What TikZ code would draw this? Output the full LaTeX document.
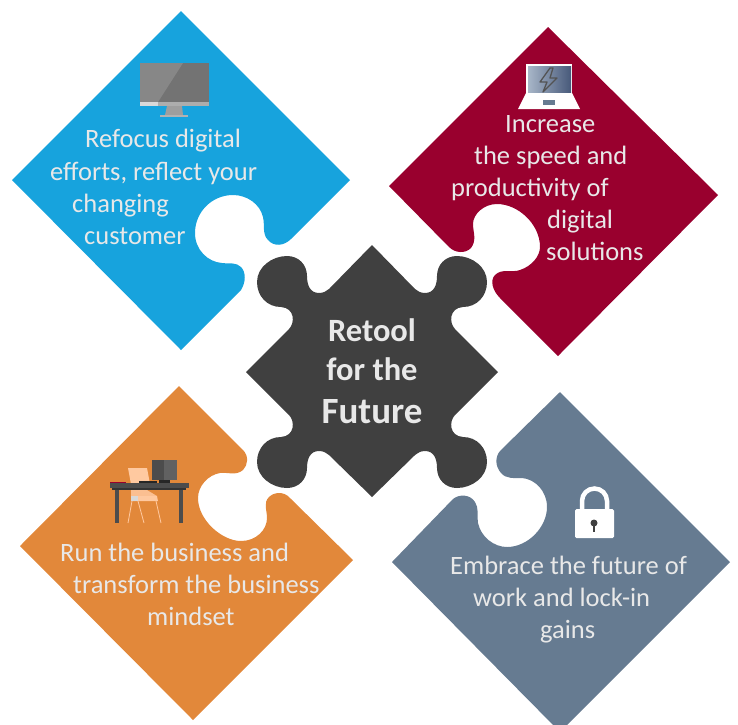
\documentclass[tikz,border=0pt]{standalone}
\usepackage{fontspec}
\usepackage{xcolor}
\setmainfont{Carlito}
\definecolor{skyblue}{HTML}{17A3DD}
\definecolor{wine}{HTML}{99002E}
\definecolor{amber}{HTML}{E2883A}
\definecolor{slate}{HTML}{667B91}
\definecolor{coal}{HTML}{404040}
\definecolor{paper}{HTML}{E8E8E8}
\definecolor{peach}{HTML}{FFC9A0}
\definecolor{screenleft}{HTML}{A8B6C8}
\definecolor{screenright}{HTML}{47597A}
\tikzset{
    bodytext/.style={anchor=base west,inner sep=0pt,yshift=-0.7pt,text=paper,font=\fontsize{26.5}{26.5}\selectfont},
    hubtext/.style={anchor=base,inner sep=0pt,yshift=-0.7pt,text=paper,font=\fontsize{32.5}{32.5}\selectfont\bfseries}
}

\begin{document}
\begin{tikzpicture}[x=1pt,y=-1pt]
                \useasboundingbox (0,0) rectangle (738,724);
                \clip (0,0) rectangle (738,724);

                % Puzzle pieces
                % top left
                \fill[skyblue] (181,11) -- (350,180) -- (291,239) .. controls (284,246) and (274,247) .. (268,240) .. controls (262,234) and (265,226) .. (263,217) .. controls (260,204) and (247,195) .. (233,195) .. controls (212,195) and (195,212) .. (195,233) .. controls (195,250) and (208,262) .. (222,263) .. controls (230,264) and (236,262) .. (241,267) .. controls (246,272) and (246,282) .. (241,290) -- (181,350) -- (12,180) -- cycle;
                % top right
                \fill[wine] (548,27) -- (718,195) -- (558,356) -- (500,298) .. controls (492,290) and (490,280) .. (495,275) .. controls (502,268) and (512,273) .. (520,270) .. controls (532,266) and (540,256) .. (540,247) .. controls (540,224) and (518,204) .. (497,204) .. controls (484,204) and (473,214) .. (473,224) .. controls (473,232) and (477,240) .. (471,248) .. controls (465,254) and (455,253) .. (449,247) -- (389,186) -- cycle;
                % bottom left
                \fill[amber] (179,386) -- (243,450) .. controls (249,456) and (248,465) .. (243,470) .. controls (236,476) and (228,472) .. (220,473) .. controls (208,475) and (198,486) .. (198,498) .. controls (198,520) and (222,541) .. (241,541) .. controls (256,541) and (267,530) .. (267,518) .. controls (267,510) and (263,503) .. (269,497) .. controls (274,492) and (284,491) .. (290,498) -- (353,560) -- (193,720) -- (20,546) -- cycle;
                % bottom right
                \fill[slate] (560,392) -- (730,562) -- (560,732) -- (392,562) -- (453,499) .. controls (459,494) and (470,494) .. (475,502) .. controls (479,508) and (477,515) .. (478,523) .. controls (481,537) and (494,547) .. (507,547) .. controls (528,547) and (547,527) .. (547,507) .. controls (547,491) and (535,479) .. (522,478) .. controls (514,478) and (506,479) .. (501,473) .. controls (495,466) and (495,457) .. (500,451) -- cycle;
                % centre
                \fill[coal] (246,372) -- (289,329) .. controls (295,323) and (295,308) .. (281,307) .. controls (267,307) and (257,296) .. (257,282) .. controls (257,267) and (272,256) .. (287,256) .. controls (299,256) and (307,265) .. (307,276) .. controls (307,285) and (310,293) .. (319,293) .. controls (324,293) and (326,291) .. (329,289) -- (372,245)
                    -- (415,289) .. controls (418,291) and (420,293) .. (425,293) .. controls (434,293) and (437,285) .. (437,276) .. controls (437,265) and (445,256) .. (457,256) .. controls (472,256) and (487,267) .. (487,282) .. controls (487,296) and (477,307) .. (463,307) .. controls (449,308) and (449,323) .. (455,329) -- (498,372)
                    -- (455,415) .. controls (449,421) and (449,436) .. (463,437) .. controls (477,437) and (487,448) .. (487,462) .. controls (487,477) and (472,488) .. (457,488) .. controls (445,488) and (437,479) .. (437,468) .. controls (437,459) and (434,451) .. (425,451) .. controls (420,451) and (418,453) .. (415,455) -- (372,497)
                    -- (329,455) .. controls (326,453) and (324,451) .. (319,451) .. controls (310,451) and (307,459) .. (307,468) .. controls (307,479) and (299,488) .. (287,488) .. controls (272,488) and (257,477) .. (257,462) .. controls (257,448) and (267,437) .. (281,437) .. controls (295,436) and (295,421) .. (289,415) -- cycle;

                % Monitor icon
                \fill[black!55] (140,63) rectangle (209,102);
                \fill[black!47] (140,63) -- (183,63) -- (158,102) -- (140,102) -- cycle;
                \fill[black!32] (140,102) rectangle (209,106);
                \fill[black!15] (140,102) -- (158,102) -- (158,106) -- (140,106) -- cycle;
                \fill[black!38] (167,106) -- (182,106) -- (183,115) -- (165,115) -- cycle;
                \fill[black!30] (160,115) rectangle (188,117);

                % Laptop icon
                \fill[white] (526,64) rectangle (572,95);
                \shade[left color=screenleft,right color=screenright] (528,66) rectangle (571,93);
                \fill[white] (526,93) -- (572,93) -- (580,109) -- (518,109) -- cycle;
                \fill[slate] (543,100) rectangle (555,105);
                \draw[coal!90,line width=1.3pt,line join=round] (550,68) -- (540,82) -- (547,82) -- (543,92) -- (557,78) -- (550,78) -- (553,68) -- cycle;

                % Desk icon
                % chair
                \fill[peach] (128,468) -- (147,468) -- (150,484) -- (131,484) -- cycle;
                \fill[peach!85!amber] (131,490) -- (147,490) -- (157,496) -- (131,496) -- cycle;
                \fill[peach] (131,496) -- (157,496) -- (158,501) -- (131,501) -- cycle;
                \fill[black!15] (131,496) rectangle (138,501);
                \draw[peach,line width=0.8pt] (132,501) -- (128,523);
                \draw[peach,line width=0.8pt] (138,501) -- (144,523);
                \draw[peach,line width=0.8pt] (156,501) -- (161,523);
                % desk
                \fill[black!70] (110,483) rectangle (189,488);
                \fill[black!80] (112,488) rectangle (186,490);
                \fill[black!70] (115,490) rectangle (119,523);
                \fill[black!70] (179,490) rectangle (183,523);
                \fill[wine] (110,482) rectangle (126,483);
                \fill[black!85] (139,481) rectangle (157,483);
                % screen
                \fill[black!70] (152,460) rectangle (164,480);
                \fill[black!62] (164,460) rectangle (177,480);
                \fill[black!85] (159,480) rectangle (170,483);

                % Lock icon
                \draw[white,line width=4.5pt] (582,511) -- (582,501) arc (180:360:12.5) -- (607,511);
                \fill[white,rounded corners=1.5pt] (575,509) rectangle (614,538);
                \fill[coal] (594,523) circle (3.5);
                \fill[coal] (593,524) rectangle (595,532);

                % Texts
                \node[bodytext] (refocus) at (85,147) {Refocus digital};
                \node[bodytext] (efforts) at (50,180) {efforts, reflect your};
                \node[bodytext] (changing) at (72,212) {changing};
                \node[bodytext] (customer) at (84,244) {customer};

                \node[bodytext] (increase) at (505,132) {Increase};
                \node[bodytext] (speed) at (474,164) {the speed and};
                \node[bodytext] (productivity) at (451,196) {productivity of};
                \node[bodytext] (digital) at (547,228) {digital};
                \node[bodytext] (solutions) at (546,260) {solutions};

                \node[bodytext] (run) at (60,561) {Run the business and};
                \node[bodytext] (transform) at (73,593) {transform the business};
                \node[bodytext] (mindset) at (147,625) {mindset};

                \node[bodytext] (embrace) at (450,574) {Embrace the future of};
                \node[bodytext] (work) at (473,606) {work and lock-in};
                \node[bodytext] (gains) at (540,638) {gains};

                \node[hubtext] (retool) at (372,341) {Retool};
                \node[hubtext] (forthe) at (372,380) {for the};
                \node[hubtext,font=\fontsize{37}{37}\selectfont\bfseries] (future) at (372,423) {Future};
            \end{tikzpicture}
\end{document}
